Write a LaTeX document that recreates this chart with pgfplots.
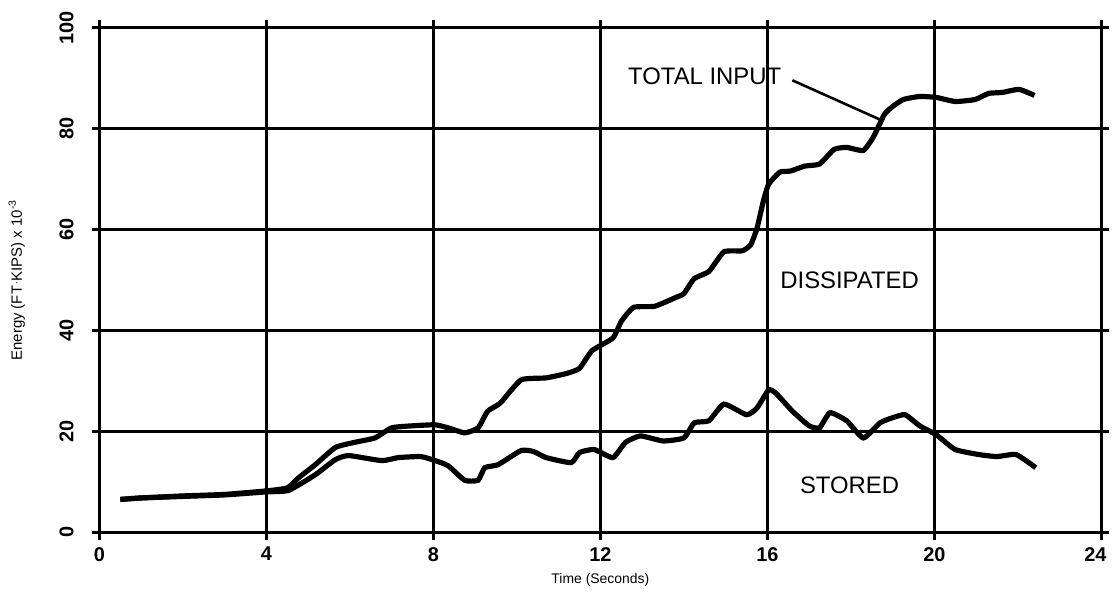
\documentclass[border=0pt]{standalone}
\usepackage{pgfplots}
\pgfplotsset{compat=1.18}
\usepackage{fontspec}
\setmainfont{Liberation Sans}
\begin{document}
\begin{tikzpicture}
\begin{axis}[
  name=ax,
  width=503.5pt, height=253.5pt, scale only axis,
  xmin=0, xmax=24, ymin=0, ymax=100,
  xtick={0,4,...,24}, ytick={0,20,...,100},
  xticklabels={0,4,8,12,16,20,{\hspace*{-6pt}24}},
  grid=major,
  major grid style={black, line width=1.3pt},
  axis line style={black, line width=1.6pt},
  tick style={black, line width=1.6pt},
  tick align=outside, major tick length=4pt,
  /pgf/number format/assume math mode=true,
  ticklabel style={font=\fontsize{10}{12}\selectfont\bfseries},
  yticklabel style={xshift=-5.5pt, rotate=90, anchor=south},
  ylabel style={font=\fontsize{7.5}{9}\selectfont, yshift=10.5pt},
  xlabel style={font=\fontsize{7}{8.5}\selectfont, at={(axis description cs:0.5,0)}, anchor=center, yshift=-24pt},
  xlabel={Time (Seconds)},
  ylabel={Energy (FT{\raisebox{0.3ex}{\tiny$\cdot$}}KIPS) x 10\textsuperscript{-3}},
  clip=false,
]
\addplot[black, line width=2.6pt, smooth, tension=0.3] coordinates {
(0.5,6.5) (1,6.8) (2,7.2) (3,7.5) (4,8.2) (4.5,8.8) (4.77,10.8) (5.17,13.4) (5.65,16.8) (6.1,17.8) (6.6,18.7) (7.0,20.7) (7.5,21.1) (8.04,21.3) (8.35,20.7) (8.75,19.7) (9.07,20.7) (9.3,24) (9.6,25.6) (10.1,30.2) (10.7,30.6) (11.2,31.5) (11.5,32.5) (11.8,36) (12.3,38.5) (12.5,41.8) (12.8,44.6) (13.3,44.8) (13.85,46.7) (14.0,47.3) (14.25,50.3) (14.6,51.7) (14.96,55.6) (15.4,55.8) (15.6,57) (15.75,60.2) (15.9,65.5) (16.03,69) (16.3,71.4) (16.55,71.6) (16.9,72.6) (17.25,73) (17.6,75.9) (17.9,76.3) (18.3,75.7) (18.55,78.5) (18.8,82.8) (19.0,84.4) (19.26,85.8) (19.65,86.4) (20.05,86.2) (20.5,85.4) (20.98,85.8) (21.3,87) (21.63,87.2) (22.03,87.8) (22.4,86.6)
};
\addplot[black, line width=2.6pt, smooth, tension=0.3] coordinates {
(0.5,6.5) (1,6.8) (2,7.1) (3,7.4) (4,8.0) (4.53,8.3) (5.17,11.4) (5.65,14.4) (5.97,15.2) (6.76,14.2) (7.16,14.8) (7.7,15) (8.04,14.2) (8.35,13.2) (8.75,10.3) (9.07,10.3) (9.23,12.8) (9.55,13.4) (10.1,16.2) (10.4,16) (10.7,14.8) (11.3,13.8) (11.5,15.8) (11.85,16.4) (12.3,14.8) (12.6,17.8) (12.96,19.1) (13.5,18.1) (14.0,18.7) (14.25,21.7) (14.6,22.1) (14.96,25.4) (15.5,23.3) (15.75,24.6) (16.03,28.2) (16.2,27.6) (16.6,24) (17.0,21.1) (17.25,20.7) (17.5,23.7) (17.9,22.1) (18.3,18.7) (18.7,21.7) (19.0,22.7) (19.3,23.3) (19.65,21.1) (20.05,19.3) (20.5,16.4) (21.07,15.4) (21.5,15) (21.96,15.4) (22.43,12.8)
};
\addplot[black, line width=1.3pt] coordinates {(16.6,89.6) (18.73,81.7)};
\node[font=\fontsize{12}{14}\selectfont] at (axis cs:14.5,90.3) {TOTAL INPUT};
\node[font=\fontsize{12}{14}\selectfont] at (axis cs:17.97,49.9) {DISSIPATED};
\node[font=\fontsize{12}{14}\selectfont] at (axis cs:17.97,9.3) {STORED};
\end{axis}
\path[draw=none] ([shift={(-50pt,-29pt)}]ax.south west) rectangle ([shift={(3pt,14pt)}]ax.north east);
\end{tikzpicture}
\end{document}
